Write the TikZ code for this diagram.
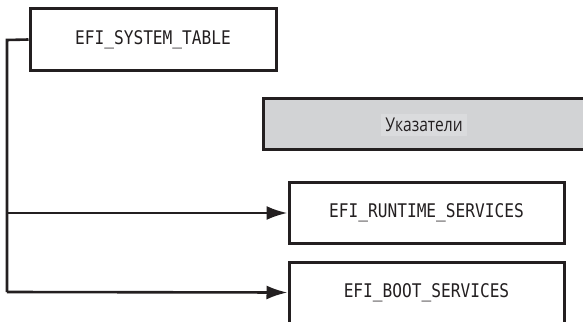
\documentclass[tikz,border=0pt]{standalone}
\usepackage{fontspec}
\setmainfont{Open Sans}[FakeStretch=0.82]
\setmonofont{DejaVu Sans Mono}[FakeStretch=0.86]
\usetikzlibrary{arrows.meta,positioning}
\definecolor{ink}{HTML}{231F20}
\definecolor{shade}{HTML}{D2D3D5}
\definecolor{shadelt}{HTML}{DADBDD}

\begin{document}
\begin{tikzpicture}[
  x=1pt,y=-1pt,
  font=\ttfamily\fontsize{18.8}{22}\selectfont,
  struct/.style={draw=ink,line width=3pt,fill=white,minimum width=246pt,
    minimum height=61pt,inner sep=0pt,text=ink},
  ptr/.style={-{Latex[length=21pt,width=14pt]},draw=ink,line width=2.6pt}
]
  \useasboundingbox (0,0) rectangle (583,321);
  \clip (0,0) rectangle (583,321);

  \node[struct] (sys) at (153,39.5) {EFI\_SYSTEM\_TABLE};
  \node[struct,fill=shade,minimum width=360pt,minimum height=51pt,anchor=west]
    (ptrs) at (262,124) {};
  \node[fill=shadelt,text=ink,font=\rmfamily\fontsize{19}{22}\selectfont,inner sep=4pt]
    (ptrlbl) at (424,125) {Указатели};
  \node[struct,minimum width=275pt] (rt) at (426.5,213) {EFI\_RUNTIME\_SERVICES};
  \node[struct,minimum width=275pt] (bs) at (426.5,292.5) {EFI\_BOOT\_SERVICES};

  \coordinate (trunk) at (7,40);
  \draw[draw=ink,line width=2.6pt] (sys.west) -- (trunk) -- (7,292);
  \draw[ptr] (7,213) -- (rt.west);
  \draw[ptr] (7,292) -- (bs.west);
\end{tikzpicture}
\end{document}
